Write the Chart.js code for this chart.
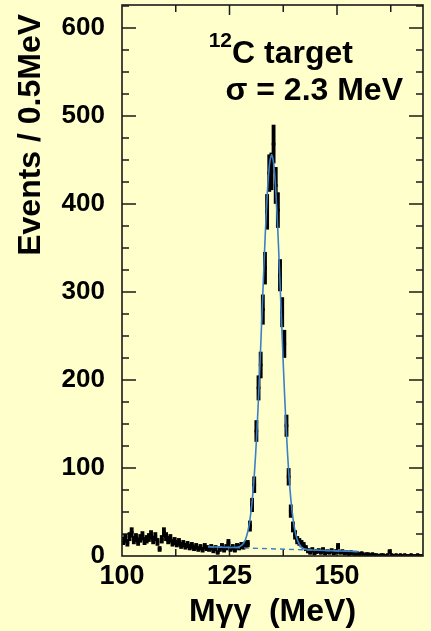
<!DOCTYPE html>
<html>
<head>
<meta charset="utf-8">
<script src="https://cdn.jsdelivr.net/npm/chart.js@4.4.1/dist/chart.umd.min.js"></script>
<style>
  html, body { margin: 0; padding: 0; background: #ffffcc; }
  #wrap { width: 431px; height: 631px; }
</style>
</head>
<body>
<div id="wrap"><canvas id="c" width="431" height="631"></canvas></div>
<script>
// histogram: 0.5 MeV bins from 100 to 170 MeV
const BIN_START = 100;
const BIN_WIDTH = 0.5;

// 100.25 .. 129.25 MeV
const COUNTS_LOW = [
  17, 20, 15, 22, 27, 18, 21, 16, 20, 23,
  17, 19, 21, 24, 18, 22, 16, 8, 19, 27,
  22, 18, 20, 15, 17, 14, 16, 12, 14, 11,
  13, 10, 12, 9, 11, 8, 10, 7, 11, 9,
  8, 10, 6, 9, 4, 8, 11, 7, 10, 15,
  8, 10, 7, 11, 10, 12, 11, 13, 14
];
// 129.75 .. 142.25 MeV (pi0 peak)
const COUNTS_PEAK = [
  34, 58, 81, 142, 191, 217, 280, 327, 391, 435,
  437, 468, 421, 393, 319, 277, 241, 148, 90, 51,
  33, 24, 18, 16, 14, 12
];
// 142.75 .. 169.75 MeV
const COUNTS_TAIL = [
  9, 6, 4, 7, 3, 5, 6, 4, 7, 3,
  5, 4, 6, 3, 5, 11, 4, 5, 3, 4,
  2, 4, 3, 2, 3, 2, 3, 1, 2, 2,
  1, 2, 1, 1, 0, 1, 1, 0, 1, 5,
  1, 0, 1, 0, 1, 0, 1, 0, 0, 1,
  0, 0, 1, 0, 0
];

// gaussian + background fit
const FIT_X = [120, 125, 126.3, 126.8, 127.3, 127.8, 128.3, 128.8, 129.3, 129.8,
  130.3, 130.8, 131.3, 131.8, 132.3, 132.8, 133.3, 133.8, 134.3, 134.8,
  135.3, 135.8, 136.3, 136.8, 137.3, 137.8, 138.3, 138.8, 139.3, 139.8,
  140.3, 140.8, 141.3, 141.8, 142.3, 142.8, 143.3, 145, 150, 155];
const FIT_Y = [10.5, 9.7, 9.8, 10.0, 10.6, 12.0, 14.8, 20.0, 28.7, 42.8,
  64.1, 94.5, 135.1, 185.4, 243.4, 304.8, 363.5, 412.4, 444.8, 456.1,
  444.6, 412.1, 363.0, 304.2, 242.6, 184.5, 134.0, 93.3, 62.7, 41.3,
  27.0, 18.1, 12.8, 9.8, 8.3, 7.5, 7.1, 6.6, 5.8, 5.0];

// background part of the fit
const BKG_X = [120, 155];
const BKG_Y = [10.5, 5.0];

const X_MIN = 100, X_MAX = 170, X_STEP = 25, X_MINOR = 12.5;
const Y_MIN = 0, Y_MAX = 626, Y_STEP = 100, Y_MINOR = 25;

const FONT = '"Liberation Sans", Arial, Helvetica, sans-serif';
const FIT_COLOR = '#3b80c4';

const counts = COUNTS_LOW.concat(COUNTS_PEAK, COUNTS_TAIL);
const centers = counts.map((_, i) => BIN_START + BIN_WIDTH * (i + 0.5));

// ── frame, inward ticks and the label box ─────────────
const frameTicks = {
  id: 'frameTicks',
  beforeDatasetsDraw(chart) {
    const { ctx, chartArea: a, scales: { x, y } } = chart;
    ctx.save();
    ctx.strokeStyle = '#1a1a1a';
    ctx.lineWidth = 1.5;
    ctx.beginPath();
    for (let v = X_MIN + X_MINOR; v < X_MAX; v += X_MINOR) {
      const px = x.getPixelForValue(v);
      const len = v % X_STEP === 0 ? 10 : 7;
      ctx.moveTo(px, a.bottom); ctx.lineTo(px, a.bottom - len);
      ctx.moveTo(px, a.top); ctx.lineTo(px, a.top + len);
    }
    for (let v = Y_MIN + Y_MINOR; v < Y_MAX; v += Y_MINOR) {
      const py = y.getPixelForValue(v);
      const len = v % Y_STEP === 0 ? 14 : 7;
      ctx.moveTo(a.left, py); ctx.lineTo(a.left + len, py);
      ctx.moveTo(a.right, py); ctx.lineTo(a.right - len, py);
    }
    ctx.stroke();
    ctx.restore();
  },
  afterDraw(chart) {
    const { ctx, chartArea: a } = chart;
    ctx.save();
    ctx.strokeStyle = '#1a1a1a';
    ctx.lineWidth = 1.6;
    ctx.strokeRect(a.left, a.top, a.right - a.left, a.bottom - a.top);

    ctx.fillStyle = '#000';
    ctx.textBaseline = 'alphabetic';
    const cx = a.left + 110;
    ctx.font = 'bold 32px ' + FONT;
    ctx.textAlign = 'left';
    ctx.fillText('C target', cx, a.top + 58);
    ctx.font = 'bold 21px ' + FONT;
    ctx.textAlign = 'right';
    ctx.fillText('12', cx, a.top + 42);
    ctx.font = 'bold 32px ' + FONT;
    ctx.fillText('σ = 2.3 MeV', a.right - 20, a.top + 95);
    ctx.restore();
  }
};

new Chart(document.getElementById('c'), {
  type: 'bar',
  data: {
    datasets: [
      {
        type: 'line',
        label: 'fit',
        data: FIT_X.map((v, i) => ({ x: v, y: FIT_Y[i] })),
        borderColor: FIT_COLOR,
        borderWidth: 1.6,
        pointRadius: 0,
        tension: 0.3,
        fill: false,
        order: 0
      },
      {
        type: 'line',
        label: 'background',
        data: BKG_X.map((v, i) => ({ x: v, y: BKG_Y[i] })),
        borderColor: FIT_COLOR,
        borderWidth: 1.4,
        borderDash: [5, 4],
        pointRadius: 0,
        fill: false,
        order: 1
      },
      {
        type: 'line',
        label: 'counts',
        data: centers.map((c, i) => ({ x: c, y: counts[i] })),
        showLine: false,
        pointStyle: 'rect',
        pointRadius: 1.9,
        pointBorderWidth: 1,
        pointBackgroundColor: '#000',
        pointBorderColor: '#000',
        order: 2
      },
      {
        label: 'errors',
        data: centers.map((c, i) => ({ x: c, y: [counts[i] - Math.sqrt(counts[i]), counts[i] + Math.sqrt(counts[i])] })),
        backgroundColor: '#000',
        barThickness: 3.2,
        borderSkipped: false,
        order: 3
      }
    ]
  },
  options: {
    responsive: false,
    animation: false,
    events: [],
    layout: { padding: { top: 5, right: 8, left: 0, bottom: 0 } },
    plugins: { legend: { display: false }, tooltip: { enabled: false } },
    scales: {
      x: {
        type: 'linear',
        min: X_MIN, max: X_MAX,
        offset: false,
        grid: { display: false, drawTicks: false, offset: false },
        border: { display: false },
        ticks: {
          stepSize: X_STEP, includeBounds: false, padding: 4,
          color: '#000', font: { family: FONT, size: 27, weight: 'bold' },
          maxRotation: 0
        },
        title: {
          display: true, text: 'Mγγ  (MeV)', color: '#000',
          font: { family: FONT, size: 32, weight: 'bold' },
          padding: { top: 0, bottom: 0 }
        },
        afterFit: s => { s.height = 75; s.paddingLeft = 0; s.paddingRight = 0; }
      },
      y: {
        min: Y_MIN, max: Y_MAX,
        grid: { display: false, drawTicks: false },
        border: { display: false },
        ticks: {
          stepSize: Y_STEP, includeBounds: false, padding: 17,
          color: '#000', font: { family: FONT, size: 26, weight: 'bold' }
        },
        title: {
          display: true, text: 'Events / 0.5MeV ', color: '#000', align: 'end',
          font: { family: FONT, size: 32, weight: 'bold' },
          padding: { top: 12, bottom: 0 }
        },
        afterFit: s => { s.width = 122; s.paddingTop = 0; s.paddingBottom = 0; }
      }
    }
  },
  plugins: [frameTicks]
});
</script>
</body>
</html>
